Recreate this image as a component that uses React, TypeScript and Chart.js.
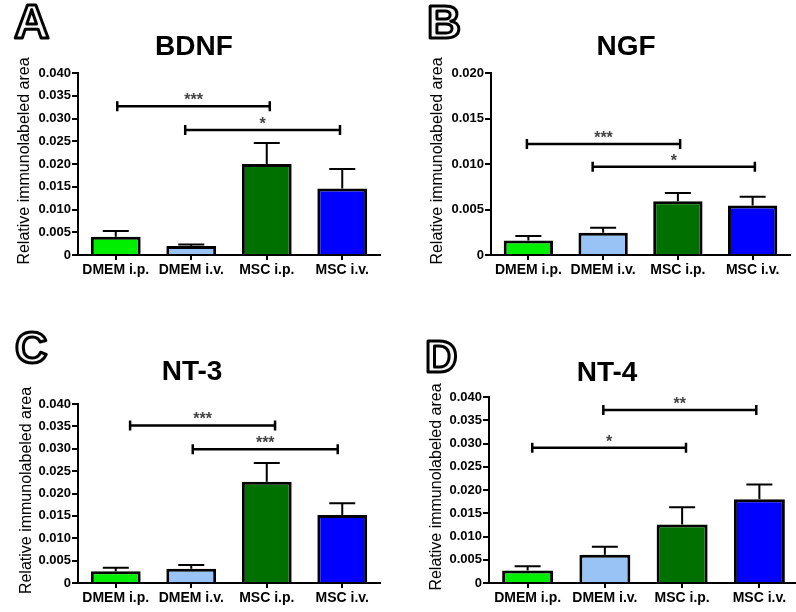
import React, { useEffect, useRef } from "react";
import { Chart, registerables } from "chart.js";

Chart.register(...registerables);

// ---------- data ----------
const categories = ["DMEM i.p.", "DMEM i.v.", "MSC i.p.", "MSC i.v."];
const barColors = ["#00ee00", "#99c2f5", "#007000", "#0000ff"];

const bdnfMeans = [0.004, 0.002, 0.02, 0.0146];
const bdnfSem = [0.0013, 0.0003, 0.0046, 0.0043];
const ngfMeans = [0.0016, 0.00245, 0.0059, 0.00545];
const ngfSem = [0.0005, 0.00055, 0.0009, 0.00095];
const nt3Means = [0.0026, 0.0032, 0.0226, 0.0152];
const nt3Sem = [0.0008, 0.0008, 0.0042, 0.0026];
const nt4Means = [0.0027, 0.0061, 0.0126, 0.018];
const nt4Sem = [0.0009, 0.0017, 0.0037, 0.0032];

// significance brackets: from / to in category positions, y in data units
const bdnfBrackets = [
  { from: 0.02, to: 2.04, y: 0.0327, label: "***" },
  { from: 0.92, to: 2.97, y: 0.0275, label: "*" },
];
const ngfBrackets = [
  { from: -0.02, to: 2.03, y: 0.0122, label: "***" },
  { from: 0.86, to: 3.03, y: 0.0097, label: "*" },
];
const nt3Brackets = [
  { from: 0.19, to: 2.11, y: 0.0352, label: "***" },
  { from: 1.02, to: 2.94, y: 0.0299, label: "***" },
];
const nt4Brackets = [
  { from: 0.06, to: 2.05, y: 0.0291, label: "*" },
  { from: 0.98, to: 2.96, y: 0.0372, label: "**" },
];

const yTicks40 = [0, 0.005, 0.01, 0.015, 0.02, 0.025, 0.03, 0.035, 0.04];
const yTicks20 = [0, 0.005, 0.01, 0.015, 0.02];

const yAxisTitle = "Relative immunolabeled area";
const FONT = "Arial, 'Liberation Sans', Helvetica, sans-serif";

// ---------- layout (not data) ----------
type Panel = {
  letter: string;
  title: string;
  means: number[];
  sem: number[];
  brackets: { from: number; to: number; y: number; label: string }[];
  ticks: number[];
  left: number;
  top: number;
  w: number;
  h: number;
  padTop: number;
  padRight: number;
  yW: number;
  xH: number;
  titleX: number;
  titleY: number;
  letterX: number;
  letterY: number;
  letterSize: number;
  yTitleX: number;
};

const panels: Panel[] = [
  {
    letter: "A", title: "BDNF", means: bdnfMeans, sem: bdnfSem, brackets: bdnfBrackets, ticks: yTicks40,
    left: 0, top: 0, w: 398, h: 306, padTop: 73, padRight: 18, yW: 78, xH: 51,
    titleX: 194, titleY: 47, letterX: 14, letterY: 38, letterSize: 49, yTitleX: 25,
  },
  {
    letter: "B", title: "NGF", means: ngfMeans, sem: ngfSem, brackets: ngfBrackets, ticks: yTicks20,
    left: 398, top: 0, w: 398, h: 306, padTop: 73, padRight: 6, yW: 93, xH: 51,
    titleX: 228, titleY: 47, letterX: 29, letterY: 38, letterSize: 47, yTitleX: 40,
  },
  {
    letter: "C", title: "NT-3", means: nt3Means, sem: nt3Sem, brackets: nt3Brackets, ticks: yTicks40,
    left: 0, top: 306, w: 398, h: 306, padTop: 98, padRight: 18, yW: 78, xH: 29,
    titleX: 192, titleY: 66, letterX: 15, letterY: 57, letterSize: 45, yTitleX: 27,
  },
  {
    letter: "D", title: "NT-4", means: nt4Means, sem: nt4Sem, brackets: nt4Brackets, ticks: yTicks40,
    left: 398, top: 306, w: 400, h: 306, padTop: 91, padRight: 0, yW: 91, xH: 29,
    titleX: 209, titleY: 67, letterX: 27, letterY: 66, letterSize: 45, yTitleX: 39,
  },
];

function PanelChart({ p }: { p: Panel }) {
  const ref = useRef<HTMLCanvasElement | null>(null);

  useEffect(() => {
    if (!ref.current) return;
    const decor = {
      id: "decor" + p.letter,
      afterDatasetsDraw(chart: any) {
        const { ctx, scales } = chart;
        const x = scales.x;
        const y = scales.y;
        const meta = chart.getDatasetMeta(0);
        ctx.save();
        ctx.strokeStyle = "#000";
        ctx.lineWidth = 2;
        p.means.forEach((m, i) => {
          const cx = meta.data[i].x;
          const yb = y.getPixelForValue(m);
          const yt = y.getPixelForValue(m + p.sem[i]);
          ctx.beginPath();
          ctx.moveTo(cx, yb);
          ctx.lineTo(cx, yt);
          ctx.moveTo(cx - 13, yt);
          ctx.lineTo(cx + 13, yt);
          ctx.stroke();
        });
        // brackets
        p.brackets.forEach((b) => {
          const x1 = x.getPixelForValue(b.from);
          const x2 = x.getPixelForValue(b.to);
          const yy = y.getPixelForValue(b.y);
          ctx.lineWidth = 2.5;
          ctx.beginPath();
          ctx.moveTo(x1, yy);
          ctx.lineTo(x2, yy);
          ctx.moveTo(x1, yy - 5);
          ctx.lineTo(x1, yy + 5);
          ctx.moveTo(x2, yy - 5);
          ctx.lineTo(x2, yy + 5);
          ctx.stroke();
          ctx.fillStyle = "#444";
          ctx.font = `bold 16px ${FONT}`;
          ctx.textAlign = "center";
          ctx.textBaseline = "alphabetic";
          ctx.fillText(b.label, (x1 + x2) / 2, yy - 1);
        });
        ctx.restore();
      },
      afterDraw(chart: any) {
        const { ctx, chartArea } = chart;
        ctx.save();
        // panel letter (outlined)
        ctx.font = `bold ${p.letterSize}px ${FONT}`;
        ctx.textAlign = "left";
        ctx.textBaseline = "alphabetic";
        ctx.lineJoin = "round";
        ctx.fillStyle = "#f6f6f6";
        ctx.fillText(p.letter, p.letterX, p.letterY);
        ctx.strokeStyle = "#000";
        ctx.lineWidth = 3;
        ctx.strokeText(p.letter, p.letterX, p.letterY);
        // title
        ctx.fillStyle = "#000";
        ctx.font = `bold 28px ${FONT}`;
        ctx.textAlign = "center";
        ctx.textBaseline = "middle";
        ctx.fillText(p.title, p.titleX, p.titleY);
        // y axis title
        ctx.translate(p.yTitleX, (chartArea.top + chartArea.bottom) / 2 - 3);
        ctx.rotate(-Math.PI / 2);
        ctx.font = `16px ${FONT}`;
        ctx.fillText(yAxisTitle, 0, 0);
        ctx.restore();
      },
    };

    const chart = new Chart(ref.current, {
      type: "bar",
      data: {
        labels: categories,
        datasets: [
          {
            data: p.means,
            backgroundColor: barColors,
            borderColor: "#000",
            borderWidth: 3,
            barPercentage: 0.66,
            categoryPercentage: 1,
          },
        ],
      },
      options: {
        animation: false,
        responsive: false,
        maintainAspectRatio: false,
        events: [],
        layout: { padding: { top: p.padTop, right: p.padRight, bottom: 0, left: 0 } },
        plugins: { legend: { display: false }, tooltip: { enabled: false }, title: { display: false } },
        scales: {
          x: {
            grid: { display: true, drawOnChartArea: false, offset: false, tickLength: 5, color: "#000", lineWidth: 2 },
            border: { display: true, color: "#000", width: 2 },
            ticks: { color: "#000", font: { family: FONT, size: 14, weight: "bold" }, padding: 2, maxRotation: 0, autoSkip: false },
            afterFit: (s: any) => { s.height = p.xH; },
          },
          y: {
            min: 0,
            max: p.ticks[p.ticks.length - 1],
            afterBuildTicks: (s: any) => { s.ticks = p.ticks.map((v) => ({ value: v })); },
            grid: { display: true, drawOnChartArea: false, tickLength: 6, color: "#000", lineWidth: 2 },
            border: { display: true, color: "#000", width: 2 },
            ticks: {
              color: "#000",
              font: { family: FONT, size: 13, weight: "bold" },
              padding: 1,
              callback: (v: any) => (Number(v) === 0 ? "0" : Number(v).toFixed(3)),
            },
            afterFit: (s: any) => { s.width = p.yW; },
          },
        },
      },
      plugins: [decor],
    } as any);
    return () => chart.destroy();
  }, [p]);

  return (
    <canvas
      ref={ref}
      width={p.w}
      height={p.h}
      style={{ position: "absolute", left: p.left, top: p.top, width: p.w, height: p.h }}
    />
  );
}

export default function App() {
  return (
    <div
      style={{
        position: "fixed",
        left: 0,
        top: 0,
        width: 796,
        height: 612,
        overflow: "hidden",
        background: "#fff",
      }}
    >
      {panels.map((p) => (
        <PanelChart key={p.letter} p={p} />
      ))}
    </div>
  );
}
